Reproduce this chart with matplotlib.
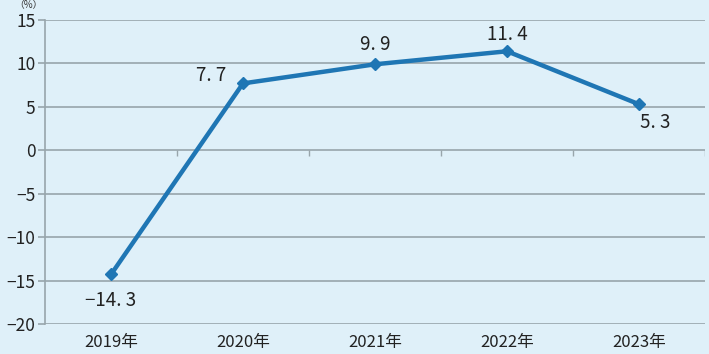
import matplotlib.pyplot as plt
import numpy as np

plt.rcParams['font.family'] = ['Noto Sans CJK SC', 'DejaVu Sans']
plt.rcParams['axes.unicode_minus'] = False

years = ['2019年', '2020年', '2021年', '2022年', '2023年']
growth = [-14.3, 7.7, 9.9, 11.4, 5.3]
yticks = [15, 10, 5, 0, -5, -10, -15, -20]
ytick_labels = ['15', '10', '5', '0', '−5', '−10', '−15', '−20']
# label offsets in points (dx, dy)
label_offsets = [(0, -19), (-23, 6), (0, 14), (0, 12), (12, -13)]

BG = '#dff0f9'
LINE = '#1f76b4'
GRID = '#98a5ab'

fig = plt.figure(figsize=(7.09, 3.54), dpi=100, facecolor=BG)
ax = fig.add_axes([45 / 709, 30 / 354, 660 / 709, 304 / 354])
ax.set_facecolor(BG)

x = np.arange(len(years))
ax.plot(x, growth, color=LINE, lw=3.2, marker='D', ms=6, zorder=3)

for xi, v, (dx, dy) in zip(x, growth, label_offsets):
    txt = f'{v:.1f}'.replace('.', '. ').replace('-', '−')
    ax.annotate(txt, (xi, v), xytext=(dx, dy), textcoords='offset points',
                ha='center', va='center', fontsize=13.5, color='#222222')

ax.set_xlim(-0.5, len(years) - 0.5)
ax.set_ylim(-20, 15)
ax.set_yticks(yticks)
ax.set_yticklabels(ytick_labels, fontsize=12.5, color='#222222')
ax.set_xticks(x)
ax.set_xticklabels(years, fontsize=12, color='#222222')
ax.tick_params(axis='x', length=0, pad=7)
ax.tick_params(axis='y', length=5, color=GRID, width=1.2, pad=2)

for y in yticks:
    ax.axhline(y, color=GRID, lw=1.2, zorder=1)
# category boundary ticks on the zero line
ax.vlines(x + 0.5, -0.7, 0, color=GRID, lw=1.0, zorder=1)

for s in ['top', 'right', 'bottom']:
    ax.spines[s].set_visible(False)
ax.spines['left'].set_color(GRID)
ax.spines['left'].set_linewidth(1.2)

fig.text(14 / 709, 1 - 5 / 354, '（%）', fontsize=7, color='#333333', va='center')

fig.savefig('out.png', dpi=100, facecolor=BG)
